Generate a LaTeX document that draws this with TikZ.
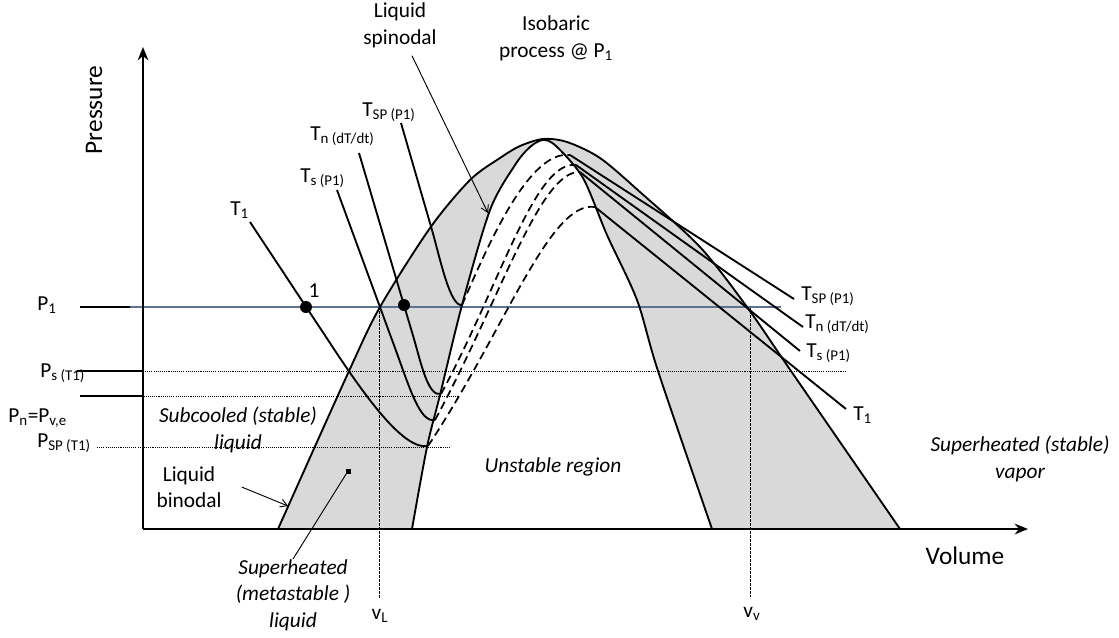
\documentclass[tikz,border=0pt]{standalone}
\usepackage{fontspec}
\setmainfont{Carlito}
\usepackage{xcolor}
\usepackage{tikz}
\usetikzlibrary{arrows.meta}
\usetikzlibrary{calc}
\definecolor{domegray}{HTML}{D9D9D9}
\definecolor{isobarblue}{RGB}{96,114,145}
\tikzset{
    lbl/.style={font=\fontsize{16}{20}\selectfont, inner sep=0pt},
    region/.style={font=\fontsize{16}{20}\selectfont\itshape, align=center, inner sep=0pt},
    axislbl/.style={font=\fontsize{19}{23}\selectfont, inner sep=0pt},
    curve/.style={line width=1.4pt},
    unstable/.style={line width=1.3pt, dash pattern=on 6pt off 3.5pt},
    guide/.style={line width=0.6pt, dash pattern=on 0.8pt off 0.8pt},
    vguide/.style={line width=0.6pt, dash pattern=on 2pt off 1pt},
    leader/.style={line width=0.7pt, -{Straight Barb[length=5pt,width=6pt]}},
}

\begin{document}
\begin{tikzpicture}[x=0.75pt,y=-0.75pt]
\useasboundingbox (0,0) rectangle (1119,637);
% two-phase dome: binodal (outer) and spinodal (inner)
\fill[domegray] plot[smooth] coordinates {(278,529) (349,371) (380,307) (430,228) (470,180) (500,158) (520,146) (543,139) (567,142) (600,158) (640,192) (700,247) (747,307) (791,371) (900,529)} -- cycle;
\fill[white] plot[smooth] coordinates {(412,529) (427,447) (440,395) (462,305) (490,210) (515,165) (530,147) (543,140) (556,146) (583,178) (607,235) (637,300) (658,371) (712,529)} -- cycle;

% pressure levels
\draw[line width=0.9pt] (80,307) -- (143,307);
\draw[line width=0.9pt] (77,371) -- (143,371);
\draw[line width=0.9pt] (80,396) -- (143,396);
\draw[guide] (113,371) -- (846,371);
\draw[guide] (135,396) -- (459,396);
\draw[guide] (97,447) -- (450,447);
\draw[vguide] (379,307) -- (379,598);
\draw[vguide] (750,307) -- (750,597);
\draw[isobarblue, line width=2.2pt] (130,307) -- (781,307);

% isotherms
\draw[curve] (250,222) -- (330,343) .. controls (370,404) and (405,450) .. (428,446);
\draw[unstable] (428,446) .. controls (505,330) and (550,200) .. (595,207);
\draw[curve] (595,207) -- (846,409);
\draw[curve] (337,190) -- (395,348) .. controls (410,389) and (420,423) .. (435,420);
\draw[unstable] (435,420) .. controls (500,300) and (540,170) .. (580,172);
\draw[curve] (580,172) -- (800,351);
\draw[curve] (359,153) -- (414,339) .. controls (421,363) and (428,397) .. (441,394);
\draw[unstable] (441,394) .. controls (500,285) and (535,160) .. (576,165);
\draw[curve] (576,165) -- (803,327);
\draw[curve] (401,123) -- (432,230) .. controls (440,258) and (450,307) .. (462,305);
\draw[unstable] (462,305) .. controls (490,240) and (530,150) .. (570,155);
\draw[curve] (570,155) -- (794,299);

\draw[curve] plot[smooth] coordinates {(278,529) (349,371) (380,307) (430,228) (470,180) (500,158) (520,146) (543,139) (567,142) (600,158) (640,192) (700,247) (747,307) (791,371) (900,529)};
\draw[curve] plot[smooth] coordinates {(412,529) (427,447) (440,395) (462,305) (490,210) (515,165) (530,147) (543,140) (556,146) (583,178) (607,235) (637,300) (658,371) (712,529)};

% axes
\draw[line width=1.6pt, -{Stealth[length=10pt,width=8pt]}] (143,529) -- (143,47);
\draw[line width=1.6pt, -{Stealth[length=10pt,width=8pt]}] (143,529) -- (1028,529);
\node[axislbl, rotate=90] (pres) at (94,110) {Pressure};
\node[axislbl] (vol) at (965,556) {Volume};

% states on the isobar
\fill (306,307) circle[radius=4.5pt];
\fill (404,305) circle[radius=4.5pt];
\node[lbl] (one) at (314,291) {1};

% pressure labels
\node[lbl, anchor=base west] (p1) at (37,310) {P\textsubscript{1}};
\node[lbl, anchor=base west] (ps) at (40,377) {P\textsubscript{s (T1)}};
\node[lbl, anchor=base west] (pn) at (8,422) {P\textsubscript{n}=P\textsubscript{v,e}};
\node[lbl, anchor=base west] (psp) at (37,447) {P\textsubscript{SP (T1)}};

% isotherm labels
\node[lbl, anchor=base west] (t1l) at (230,215) {T\textsubscript{1}};
\node[lbl, anchor=base west] (tsl) at (300,182) {T\textsubscript{s (P1)}};
\node[lbl, anchor=base west] (tnl) at (310,140) {T\textsubscript{n (dT/dt)}};
\node[lbl, anchor=base west] (tspl) at (362,116) {T\textsubscript{SP (P1)}};
\node[lbl, anchor=base west] (tspr) at (801,300) {T\textsubscript{SP (P1)}};
\node[lbl, anchor=base west] (tnr) at (805,328) {T\textsubscript{n (dT/dt)}};
\node[lbl, anchor=base west] (tsr) at (806,357) {T\textsubscript{s (P1)}};
\node[lbl, anchor=base west] (t1r) at (853,420) {T\textsubscript{1}};

% specific volumes
\node[lbl] (vl) at (380,616) {v\textsubscript{L}};
\node[lbl] (vv) at (752,614) {v\textsubscript{v}};

% region names
\node[lbl, align=center] (liqspin) at (400,25) {Liquid\\spinodal};
\node[lbl, align=center] (isobar) at (556,38) {Isobaric\\process @ P\textsubscript{1}};
\node[region] (subcool) at (238,430) {Subcooled (stable)\\liquid};
\node[lbl, align=center] (liqbin) at (189,487) {Liquid\\binodal};
\node[region] (superliq) at (293,595) {Superheated\\(metastable )\\liquid};
\node[region] (unstab) at (553,467) {Unstable region};
\node[region] (supervap) at (1020,459) {Superheated (stable)\\vapor};

% leaders
\coordinate (spintip) at (488,213);
\coordinate (bintip) at (288,506);
\coordinate (metadot) at (348,471);
\draw[leader] ($(liqspin.south)+(12,8)$) -- (spintip);
\draw[leader] ($(liqbin.east)+(20,0)$) -- (bintip);
\draw[line width=0.7pt] (superliq.north) -- (metadot);
\fill (metadot) ++(-2.5,-2.5) rectangle ++(5,5);
\end{tikzpicture}
\end{document}
